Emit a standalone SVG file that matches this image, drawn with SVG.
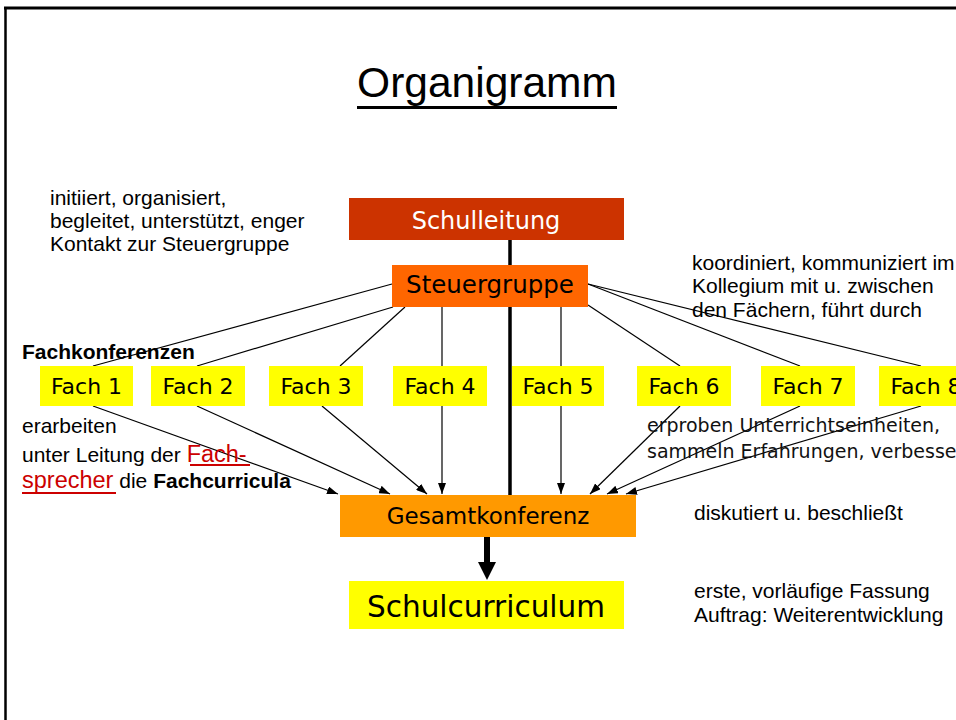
<svg xmlns="http://www.w3.org/2000/svg" width="956" height="720" viewBox="0 0 956 720">
<style>
.arial{font-family:"Liberation Sans",Arial,sans-serif;fill:#000}
.box{font-family:"DejaVu Sans",Verdana,sans-serif;text-anchor:middle}
.fach rect{fill:#FFFF00}
.fach text{font-family:"DejaVu Sans",Verdana,sans-serif;font-size:22px;text-anchor:middle;fill:#000}
.thin{stroke:#000;stroke-width:1.2;fill:none}
.red{fill:#CC0000}
</style>
<defs>
<marker id="ah" markerUnits="userSpaceOnUse" markerWidth="11" markerHeight="8" refX="11" refY="4" orient="auto">
<path d="M0,0 L11,4 L0,8 z" fill="#000"/>
</marker>
</defs>
<rect width="956" height="720" fill="#fff"/>
<!-- frame -->
<line x1="4" y1="8" x2="956" y2="8" stroke="#000" stroke-width="3"/>
<line x1="5.5" y1="7" x2="5.5" y2="720" stroke="#000" stroke-width="2.5"/>

<g id="title">
<text class="arial" x="487" y="97" font-size="42.5" text-anchor="middle">Organigramm</text>
<rect x="357" y="106" width="260" height="3" fill="#000"/>
</g>

<g id="connectors">
<line x1="510" y1="240" x2="510" y2="495" stroke="#000" stroke-width="3.5"/>
<line class="thin" x1="392" y1="284" x2="93" y2="366"/>
<line class="thin" x1="393" y1="307" x2="197" y2="366"/>
<line class="thin" x1="405" y1="307" x2="340" y2="366"/>
<line class="thin" x1="442" y1="307" x2="442" y2="366"/>
<line class="thin" x1="561" y1="307" x2="561" y2="366"/>
<line class="thin" x1="588" y1="305" x2="680" y2="366"/>
<line class="thin" x1="588" y1="284" x2="800" y2="366"/>
<line class="thin" x1="588" y1="284" x2="921" y2="366"/>
<line class="thin" x1="93" y1="406" x2="338" y2="494" marker-end="url(#ah)"/>
<line class="thin" x1="197" y1="406" x2="390" y2="494" marker-end="url(#ah)"/>
<line class="thin" x1="322" y1="406" x2="427" y2="494" marker-end="url(#ah)"/>
<line class="thin" x1="442" y1="406" x2="442" y2="494" marker-end="url(#ah)"/>
<line class="thin" x1="561" y1="406" x2="561" y2="494" marker-end="url(#ah)"/>
<line class="thin" x1="680" y1="406" x2="590" y2="494" marker-end="url(#ah)"/>
<line class="thin" x1="800" y1="406" x2="607" y2="494" marker-end="url(#ah)"/>
<line class="thin" x1="921" y1="406" x2="626" y2="494" marker-end="url(#ah)"/>
<line x1="487" y1="537" x2="487" y2="564" stroke="#000" stroke-width="6"/>
<polygon points="478,562 496,562 487,580" fill="#000"/>
</g>

<g id="schulleitung">
<rect x="349" y="198" width="275" height="42" fill="#CC3300"/>
<text class="box" x="486" y="229" font-size="24" fill="#fff">Schulleitung</text>
</g>

<g id="steuergruppe">
<rect x="392" y="265" width="196" height="42" fill="#FF6600"/>
<text class="box" x="490" y="293" font-size="24.5" fill="#000">Steuergruppe</text>
</g>

<g id="fach1" class="fach"><rect x="40" y="366" width="93" height="40"/><text x="86.5" y="394">Fach 1</text></g>
<g id="fach2" class="fach"><rect x="151" y="366" width="94" height="40"/><text x="198" y="394">Fach 2</text></g>
<g id="fach3" class="fach"><rect x="269" y="366" width="94" height="40"/><text x="316" y="394">Fach 3</text></g>
<g id="fach4" class="fach"><rect x="393" y="366" width="94" height="40"/><text x="440" y="394">Fach 4</text></g>
<g id="fach5" class="fach"><rect x="512" y="366" width="92" height="40"/><text x="558" y="394">Fach 5</text></g>
<g id="fach6" class="fach"><rect x="637" y="366" width="94" height="40"/><text x="684" y="394">Fach 6</text></g>
<g id="fach7" class="fach"><rect x="761" y="366" width="94" height="40"/><text x="808" y="394">Fach 7</text></g>
<g id="fach8" class="fach"><rect x="879" y="366" width="94" height="40"/><text x="926" y="394">Fach 8</text></g>

<g id="gesamtkonferenz">
<rect x="340" y="495" width="296" height="42" fill="#FF9900"/>
<text class="box" x="488" y="524" font-size="23" fill="#000">Gesamtkonferenz</text>
</g>

<g id="schulcurriculum">
<rect x="349" y="581" width="275" height="48" fill="#FFFF00"/>
<text class="box" x="486" y="617" font-size="29.5" fill="#000">Schulcurriculum</text>
</g>

<g id="text-schulleitung">
<text class="arial" font-size="21">
<tspan x="50" y="205">initiiert, organisiert,</tspan>
<tspan x="50" y="228">begleitet, unterstützt, enger</tspan>
<tspan x="50" y="251">Kontakt zur Steuergruppe</tspan>
</text>
</g>

<g id="text-steuergruppe">
<text class="arial" font-size="21">
<tspan x="692" y="270">koordiniert, kommuniziert im</tspan>
<tspan x="692" y="293">Kollegium mit u. zwischen</tspan>
<tspan x="692" y="317">den Fächern, führt durch</tspan>
</text>
</g>

<g id="text-fachkonferenzen">
<text class="arial" x="22" y="359" font-size="21" font-weight="bold">Fachkonferenzen</text>
<text class="arial" x="22" y="433" font-size="21">erarbeiten</text>
<text class="arial" x="22" y="462" font-size="21">unter Leitung der <tspan class="red" font-size="23.5">Fach-</tspan></text>
<rect x="190" y="464" width="60" height="2" fill="#CC0000"/>
<text class="arial" x="22" y="488" font-size="21"><tspan class="red" font-size="23.5">sprecher</tspan> die <tspan font-weight="bold">Fachcurricula</tspan></text>
<rect x="22" y="492" width="94" height="2" fill="#CC0000"/>
</g>

<g id="text-faecher">
<text font-family="DejaVu Sans, Verdana, sans-serif" font-size="19" fill="#111">
<tspan x="647" y="432">erproben Unterrichtseinheiten,</tspan>
<tspan x="647" y="458">sammeln Erfahrungen, verbessern</tspan>
</text>
</g>

<g id="text-gesamtkonferenz">
<text class="arial" x="694" y="520" font-size="21">diskutiert u. beschließt</text>
</g>

<g id="text-schulcurriculum">
<text class="arial" font-size="21">
<tspan x="694" y="598">erste, vorläufige Fassung</tspan>
<tspan x="694" y="622">Auftrag: Weiterentwicklung</tspan>
</text>
</g>
</svg>
